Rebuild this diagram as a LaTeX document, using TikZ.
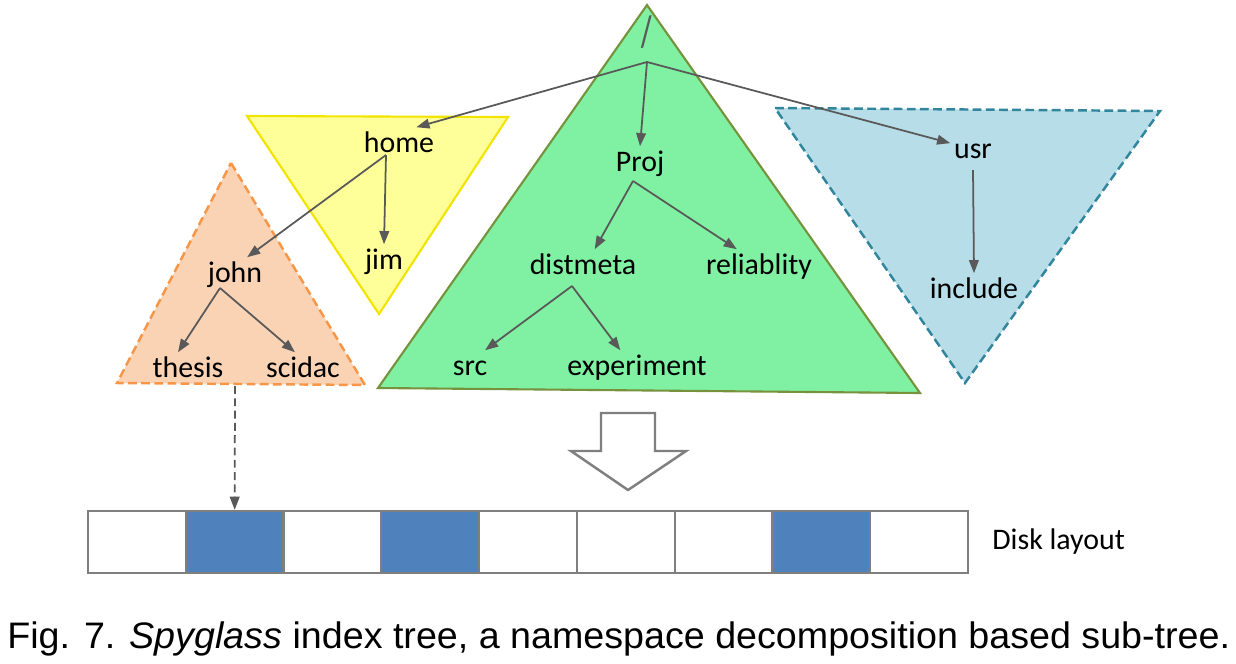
\documentclass[tikz,border=0pt]{standalone}
\usepackage{fontspec}
\usepackage{graphicx}
\setmainfont{Carlito}
\newfontfamily\capfont{Liberation Sans}
\usetikzlibrary{arrows.meta}

\definecolor{greenfill}{RGB}{128,240,162}
\definecolor{greenline}{RGB}{118,146,60}
\definecolor{yellowfill}{RGB}{255,255,153}
\definecolor{yellowline}{RGB}{240,228,0}
\definecolor{orangefill}{RGB}{250,211,181}
\definecolor{orangeline}{RGB}{247,150,70}
\definecolor{bluefill}{RGB}{183,221,232}
\definecolor{blueline}{RGB}{49,133,156}
\definecolor{linegray}{RGB}{89,89,89}
\definecolor{cellgray}{RGB}{127,127,127}
\definecolor{diskblue}{RGB}{79,129,189}

\begin{document}
\begin{tikzpicture}[x=0.02cm, y=-0.02cm,
    nodetext/.style={font=\fontsize{17}{20}\selectfont, inner sep=2pt, text height=11.9pt, text depth=3.4pt, anchor=base},
    conn/.style={draw=linegray, line width=1pt, -{Triangle[length=7.5pt,width=5.5pt]}},
    dconn/.style={conn, dash pattern=on 4.5pt off 2.5pt},
    cell/.style={draw=cellgray, line width=1.3pt, minimum width=1.9556cm, minimum height=1.24cm, inner sep=0pt},
    solidtri/.style={line width=1.2pt, line join=miter},
    dashtri/.style={line width=1.4pt, dash pattern=on 5pt off 2.5pt}]
    \useasboundingbox (0,0) rectangle (1236,663);

    % sub-tree partitions
    \draw[solidtri, draw=greenline, fill=greenfill] (647,5) -- (920,393) -- (378,388) -- cycle;
    \draw[solidtri, draw=yellowline, fill=yellowfill] (247,116) -- (508,117) -- (379,314) -- cycle;
    \draw[dashtri, draw=orangeline, fill=orangefill] (231,163) -- (365,385) -- (117,383) -- cycle;
    \draw[dashtri, draw=blueline, fill=bluefill] (775,108) -- (1160,111) -- (965,383) -- cycle;

    % namespace nodes
    \node[font=\fontsize{25}{28}\selectfont\bfseries, text=linegray] (root) at (647,32) {\scalebox{0.55}[1]{/}};
    \node[nodetext] (home) at (399,152) {home};
    \node[nodetext] (jim) at (384,269) {jim};
    \node[nodetext] (john) at (235,282) {john};
    \node[nodetext] (thesis) at (188,377) {thesis};
    \node[nodetext] (scidac) at (303,377) {scidac};
    \node[nodetext] (Proj) at (640,171) {Proj};
    \node[nodetext] (distmeta) at (583,274) {distmeta};
    \node[nodetext] (reliablity) at (759,274) {reliablity};
    \node[nodetext] (src) at (470,375) {src};
    \node[nodetext] (experiment) at (637,375) {experiment};
    \node[nodetext] (usr) at (973,158) {usr};
    \node[nodetext] (include) at (974,298) {include};

    % branch points
    \coordinate (rootB) at (647,62);
    \coordinate (homeB) at (386,155);
    \coordinate (johnB) at (220,288);
    \coordinate (ProjB) at (633,181);
    \coordinate (distmetaB) at (572,286);
    \coordinate (usrB) at (973,170);
    \coordinate (orangeB) at (235,386);

    \draw[conn] (rootB) -- (home.45);
    \draw[conn] (rootB) -- (Proj.north);
    \draw[conn] (rootB) -- (usr.162);
    \draw[conn] (homeB) -- (jim.north);
    \draw[conn] (homeB) -- (john.55);
    \draw[conn] (johnB) -- (thesis.120);
    \draw[conn] (johnB) -- (scidac.115);
    \draw[conn] (ProjB) -- (distmeta.56);
    \draw[conn] (ProjB) -- (reliablity.142);
    \draw[conn] (distmetaB) -- (src.49);
    \draw[conn] (distmetaB) -- (experiment.134);
    \draw[conn] (usrB) -- (include.north);

    % mapping arrow
    \draw[draw=cellgray, line width=1.4pt, fill=white, line join=miter]
        (601,413) -- (655,413) -- (655,451) -- (686,451) -- (628,490) -- (571,451) -- (601,451) -- cycle;

    % disk layout
    \foreach \i/\f in {0/white,1/diskblue,2/white,3/diskblue,4/white,5/white,6/white,7/diskblue,8/white}
        \node[cell, fill=\f] (c\i) at ({88+97.78*(\i+0.5)},542) {};
    \node[nodetext, anchor=base west, inner sep=0pt] (disk) at (992,549) {Disk layout};
    \draw[dconn] (orangeB) -- (c1.north);

    \node[anchor=base west, inner sep=0pt, font=\capfont\fontsize{21}{24}\selectfont] (caption) at (7,648)
        {\resizebox{24.46cm}{\height}{Fig. 7. \textit{Spyglass} index tree, a namespace decomposition based sub-tree.}};
\end{tikzpicture}
\end{document}
